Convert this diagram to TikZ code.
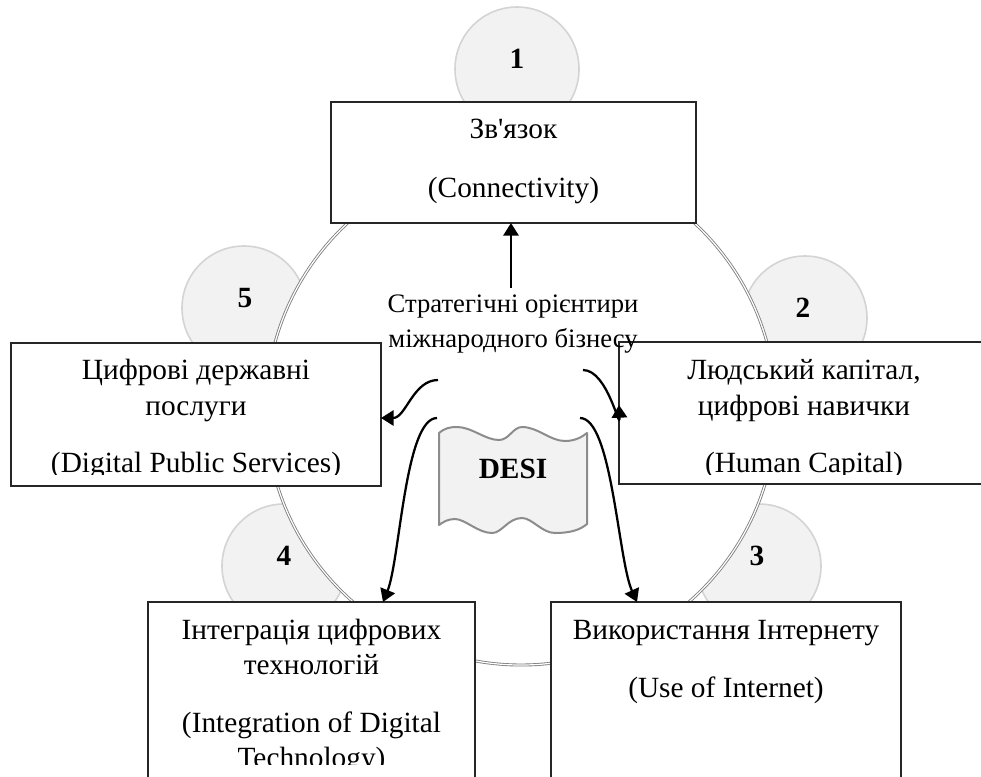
\documentclass[tikz,border=0pt]{standalone}
\usepackage{fontspec}
\setmainfont{Liberation Serif}[Ligatures=TeXOff]
\usetikzlibrary{arrows.meta}
\definecolor{cfill}{HTML}{F2F2F2}
\definecolor{cedge}{HTML}{D4D4D4}
\definecolor{fedge}{HTML}{8C8C8C}
\definecolor{ringc}{HTML}{808080}
\definecolor{boxc}{HTML}{262626}
\begin{document}
\begin{tikzpicture}[x=0.75pt,y=-0.75pt,
  numcirc/.style={circle, fill=cfill, draw=cedge, line width=1.2pt, minimum size=93pt, inner sep=0pt},
  numlab/.style={anchor=base, font=\fontsize{22}{26}\selectfont\bfseries, inner sep=0pt},
  box/.style={draw=boxc, line width=1.1pt, fill=white, anchor=north west, inner sep=0pt, outer sep=0pt},
  btxt/.style={anchor=base, font=\fontsize{22}{26}\selectfont, inner sep=0pt},
  ctxt/.style={anchor=base, font=\fontsize{20}{24}\selectfont, inner sep=0pt},
  conn/.style={line width=1.7pt, -{Triangle[length=9.5pt,width=11.5pt]}},
  ring/.style={circle, draw=ringc, line width=0.65pt, double=white, double distance=0.9pt, fill=white, inner sep=0pt},
  flag/.style={fill=cfill, draw=fedge, line width=1.5pt, line join=round}
]
\clip (0,0) rectangle (981,776);
\fill[white] (0,0) rectangle (981,776);
% numbered circles
\node[numcirc] (c1) at (517,69) {};
\node[numcirc] (c2) at (805,318) {};
\node[numcirc] (c3) at (759,566) {};
\node[numcirc] (c4) at (284,566) {};
\node[numcirc] (c5) at (244,308) {};
% ring
\node[ring, minimum size=382.5pt] (ring) at (521,410) {};
% numbers
\node[numlab] (n1) at (517,68) {1};
\node[numlab] (n2) at (803,317) {2};
\node[numlab] (n3) at (757,565) {3};
\node[numlab] (n4) at (284,565) {4};
\node[numlab] (n5) at (245,307) {5};
% boxes
\node[box, minimum width=273.75pt, minimum height=90.75pt] (b1) at (331,102) {};
\node[box, minimum width=277.5pt, minimum height=107.25pt] (b5) at (11,343) {};
\node[box, minimum width=277.5pt, minimum height=106.5pt] (b2) at (619,342) {};
\node[box, minimum width=245.25pt, minimum height=132pt] (b4) at (148,602) {};
\node[box, minimum width=262.5pt, minimum height=132pt] (b3) at (551,602) {};
% box texts
\node[btxt] (t1a) at (513.5,138) {Зв'язок};
\node[btxt] (t1b) at (513.5,197) {(Connectivity)};
\node[btxt] (t5a) at (196,379) {Цифрові державні};
\node[btxt] (t5b) at (196,415) {послуги};
\begin{scope}
  \clip (b5.north west) rectangle (b5.east |- 0,474);
  \node[btxt] (t5c) at (196,472.5) {(Digital Public Services)};
\end{scope}
\node[btxt] (t2a) at (804,379) {Людський капітал,};
\node[btxt] (t2b) at (804,415) {цифрові навички};
\begin{scope}
  \clip (b2.north west) rectangle (b2.east |- 0,474);
  \node[btxt] (t2c) at (804,472.5) {(Human Capital)};
\end{scope}
\begin{scope}
  \clip (b4.north west) rectangle (b4.east |- 0,764);
  \node[btxt] (t4a) at (311.5,639) {Інтеграція цифрових};
  \node[btxt] (t4b) at (311.5,674) {технологій};
  \node[btxt] (t4c) at (311.5,732) {(Integration of Digital};
  \node[btxt] (t4d) at (311.5,767) {Technology)};
\end{scope}
\node[btxt] (t3a) at (726,639) {Використання Інтернету};
\node[btxt] (t3b) at (726,697) {(Use of Internet)};
% DESI flag
\draw[flag] (439,433) .. controls (445,428) and (450,427) .. (457,427)
  .. controls (472,427) and (485,440) .. (499,440)
  .. controls (509,440) and (513,427) .. (522,427)
  .. controls (538,427) and (550,441) .. (565,441)
  .. controls (575,441) and (582,437) .. (587,433)
  -- (587,524)
  .. controls (580,530) and (570,533) .. (555,533)
  .. controls (542,533) and (532,518) .. (522,518)
  .. controls (508,518) and (502,533) .. (492,533)
  .. controls (478,533) and (465,519) .. (455,519)
  .. controls (448,519) and (443,522) .. (439,525) -- cycle;
\node[anchor=base, font=\fontsize{22}{26}\selectfont\bfseries, inner sep=0pt] (desi) at (513,478) {DESI};
% connectors
\coordinate (s1) at (511,288);
\coordinate (s5) at (438,380);
\coordinate (s2) at (583,370);
\coordinate (s4) at (437,418);
\coordinate (s3) at (580,418);
\draw[conn] (s1) -- (s1 |- b1.south);
\draw[conn] (s5) .. controls (413,380) and (406,418) .. (b5.east |- 0,418);
\draw[conn] (s2) .. controls (608,370) and (620,433) .. (b2.west |- 0,405);
\draw[conn] (s4) .. controls (405,418) and (400,560) .. (b4.north -| 383,0);
\draw[conn] (s3) .. controls (612,418) and (618,560) .. (b3.north -| 637,0);
% centre text
\node[ctxt] (ct1) at (513,312) {Стратегічні орієнтири};
\node[ctxt] (ct2) at (513,347) {міжнародного бізнесу};
\end{tikzpicture}
\end{document}
